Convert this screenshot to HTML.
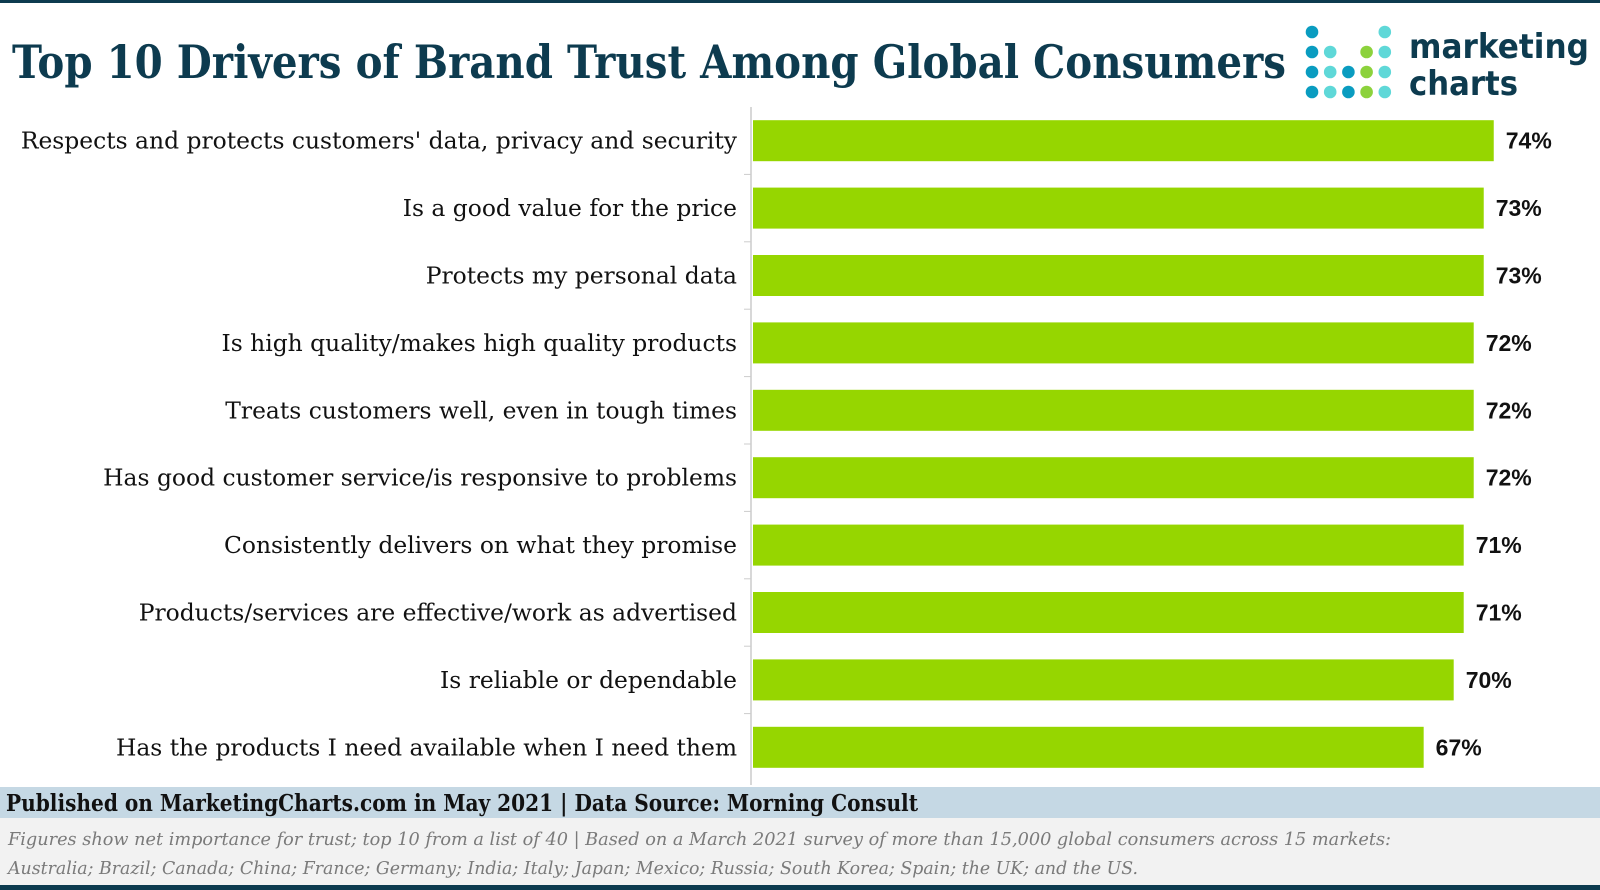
<!DOCTYPE html>
<html><head><meta charset="utf-8"><style>
html,body{margin:0;padding:0;background:#fff;}
svg{display:block;}
</style></head><body>
<svg id="chart" width="1600" height="890" xmlns="http://www.w3.org/2000/svg">
<rect x="0" y="0" width="1600" height="3" fill="#0d3b4f"/>
<text x="12" y="78" font-family="'DejaVu Serif','Liberation Serif',serif" font-weight="bold" font-size="46" fill="#0d3b4f" textLength="1274" lengthAdjust="spacingAndGlyphs">Top 10 Drivers of Brand Trust Among Global Consumers</text>
<g id="logo"></g>
<text x="1409" y="58" font-family="'DejaVu Sans','Liberation Sans',sans-serif" font-weight="bold" font-size="34" fill="#0d3b4f" textLength="180" lengthAdjust="spacingAndGlyphs">marketing</text>
<text x="1409" y="95" font-family="'DejaVu Sans','Liberation Sans',sans-serif" font-weight="bold" font-size="34" fill="#0d3b4f" textLength="109" lengthAdjust="spacingAndGlyphs">charts</text>
<g id="bars"></g>
<line x1="751" y1="107" x2="751" y2="785" stroke="#cccccc" stroke-width="1.5"/>
<rect x="0" y="787" width="1600" height="31" fill="#c5d8e4"/>
<text x="6" y="811" font-family="'DejaVu Serif','Liberation Serif',serif" font-weight="bold" font-size="23" fill="#111" textLength="912" lengthAdjust="spacingAndGlyphs">Published on MarketingCharts.com in May 2021 | Data Source: Morning Consult</text>
<rect x="0" y="818" width="1600" height="67" fill="#f2f2f2"/>
<text x="8" y="845" font-family="'DejaVu Serif','Liberation Serif',serif" font-style="italic" font-size="18" fill="#7a7a7a" textLength="1383" lengthAdjust="spacingAndGlyphs">Figures show net importance for trust; top 10 from a list of 40 | Based on a March 2021 survey of more than 15,000 global consumers across 15 markets:</text>
<text x="8" y="874" font-family="'DejaVu Serif','Liberation Serif',serif" font-style="italic" font-size="18" fill="#7a7a7a" textLength="1130" lengthAdjust="spacingAndGlyphs">Australia; Brazil; Canada; China; France; Germany; India; Italy; Japan; Mexico; Russia; South Korea; Spain; the UK; and the US.</text>
<rect x="0" y="885" width="1600" height="5" fill="#0d3b4f"/>
</svg>
<script>
const categories = ["Respects and protects customers' data, privacy and security","Is a good value for the price","Protects my personal data","Is high quality/makes high quality products","Treats customers well, even in tough times","Has good customer service/is responsive to problems","Consistently delivers on what they promise","Products/services are effective/work as advertised","Is reliable or dependable","Has the products I need available when I need them"];
const values = [74,73,73,72,72,72,71,71,70,67];
const valueLabels = ["74%","73%","73%","72%","72%","72%","71%","71%","70%","67%"];
const NS="http://www.w3.org/2000/svg";
const x0=753, pxPer=10.01, top0=107, step=67.4, barH=41;
function xScale(v){return x0+v*pxPer;}
function yBand(i){return top0+i*step+(step-barH)/2;}
const g=document.getElementById('bars');
categories.forEach((c,i)=>{
  const y=yBand(i);
  const r=document.createElementNS(NS,'rect');
  r.setAttribute('x',x0);r.setAttribute('y',y);r.setAttribute('width',xScale(values[i])-x0);r.setAttribute('height',barH);r.setAttribute('fill','#96d600');
  
  
  g.appendChild(r);
  const t=document.createElementNS(NS,'text');
  t.setAttribute('x',737);t.setAttribute('y',y+barH/2+8);t.setAttribute('text-anchor','end');
  t.setAttribute('font-family',"'DejaVu Serif','Liberation Serif',serif");t.setAttribute('font-size','23.4');t.setAttribute('fill','#111');
  t.textContent=c;
  
  
  g.appendChild(t);
  const v=document.createElementNS(NS,'text');
  v.setAttribute('x',xScale(values[i])+12);v.setAttribute('y',y+barH/2+8);
  v.setAttribute('font-family',"'Liberation Sans',sans-serif");v.setAttribute('font-weight','bold');v.setAttribute('font-size','23');v.setAttribute('fill','#111');
  v.textContent=valueLabels[i];
  
  
  g.appendChild(v);
  if(i>0){
    const tk=document.createElementNS(NS,'line');
    tk.setAttribute('x1',744);tk.setAttribute('x2',751);tk.setAttribute('y1',top0+i*step);tk.setAttribute('y2',top0+i*step);tk.setAttribute('stroke','#ccc');
    
    
    g.appendChild(tk);
  }
});
const B='#0a9cc0',L='#5fd8d8',G='#8cd23c';
const dots=[[0,0,B],[0,1,B],[0,2,B],[0,3,B],[1,1,L],[1,2,L],[1,3,L],[2,2,B],[2,3,B],[3,1,G],[3,2,G],[3,3,G],[4,0,L],[4,1,L],[4,2,L],[4,3,L]];
const lg=document.getElementById('logo');
dots.forEach(d=>{
  const c=document.createElementNS(NS,'circle');
  c.setAttribute('cx',1312+d[0]*18.2);c.setAttribute('cy',32+d[1]*20);c.setAttribute('r',6.3);c.setAttribute('fill',d[2]);
  
  
  lg.appendChild(c);
});
</script>
</body></html>
